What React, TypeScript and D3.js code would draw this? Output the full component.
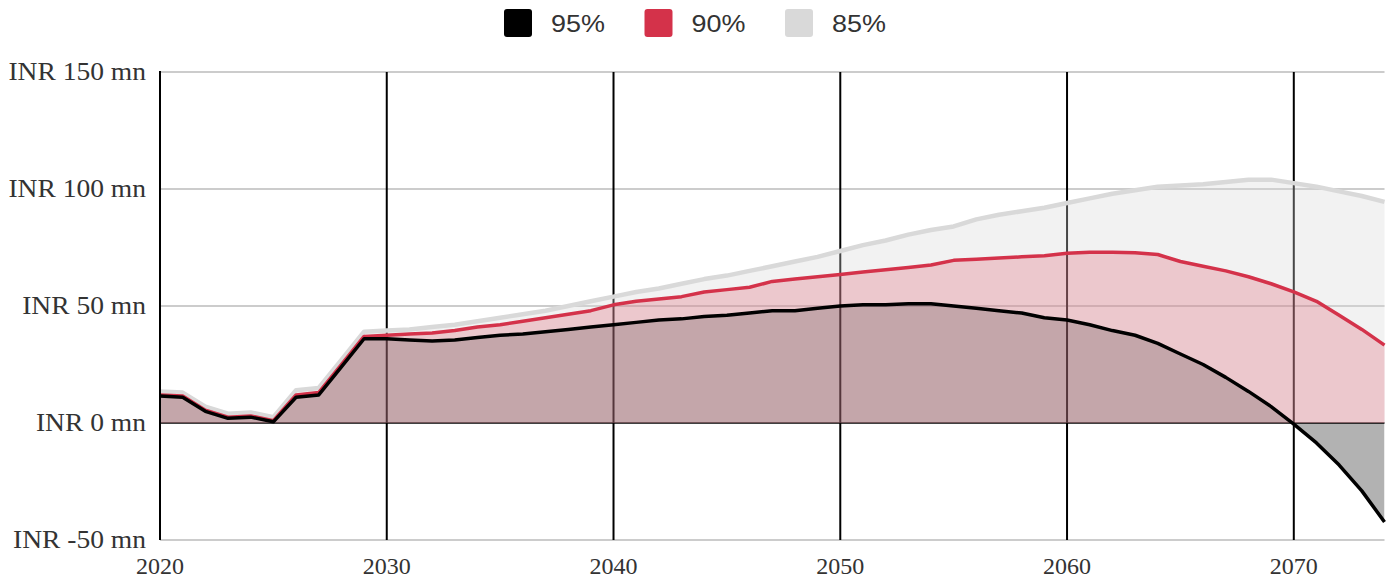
import React from "react";
import * as d3 from "d3";

const years: number[] = d3.range(2020, 2075);
const p95: number[] = [11.5, 11, 5, 2, 2.5, 0.5, 11, 12, 24, 36, 36, 35.5, 35, 35.5, 36.5, 37.5, 38, 39, 40, 41, 42, 43, 44, 44.5, 45.5, 46, 47, 48, 48, 49, 50, 50.5, 50.5, 51, 51, 50, 49, 48, 47, 45, 44, 42, 39.5, 37.5, 34, 29.5, 25, 19.5, 13.5, 7, -0.5, -8.5, -18, -29, -42.3];
const p90: number[] = [12, 11.5, 5.5, 2.5, 3, 1, 12, 13, 25, 37, 37.5, 38, 38.5, 39.5, 41, 42, 43.5, 45, 46.5, 48, 50.5, 52, 53, 54, 56, 57, 58, 60.5, 61.5, 62.5, 63.5, 64.5, 65.5, 66.5, 67.5, 69.5, 70, 70.5, 71, 71.5, 72.5, 73, 73, 72.8, 72, 69, 67, 65, 62.5, 59.5, 56, 52, 46, 40, 33.3];
const p85: number[] = [13.5, 13, 7, 4, 4.5, 2.5, 14, 15, 27, 39, 39.5, 40, 41, 42, 43.5, 45, 46.5, 48, 50, 52, 54, 56, 57.5, 59.5, 61.5, 63, 65, 67, 69, 71, 73.5, 76, 78, 80.5, 82.5, 84, 87, 89, 90.5, 92, 94, 96, 98, 99.5, 101, 101.5, 102, 103, 104, 104, 102.5, 101, 99, 97, 94.5];
const yTicks: number[] = [-50, 0, 50, 100, 150];
const xTicks: number[] = [2020, 2030, 2040, 2050, 2060, 2070];
const legendLabels: string[] = ["95%", "90%", "85%"];
const legendColors: string[] = ["#000000", "#d4324a", "#d9d9d9"];

const W = 1393;
const H = 581;
const left = 160;
const right = 1384.5;
const top = 72;
const bottom = 540;

export default function App() {
  const x = d3.scaleLinear().domain([2020, 2074]).range([left, right]);
  const y = d3.scaleLinear().domain([-50, 150]).range([bottom, top]);

  const mk = (vals: number[]) =>
    years.map((yr, i) => ({ yr, v: vals[i] }));

  const line = d3
    .line<{ yr: number; v: number }>()
    .x((d) => x(d.yr))
    .y((d) => y(d.v));
  const area = d3
    .area<{ yr: number; v: number }>()
    .x((d) => x(d.yr))
    .y0(y(0))
    .y1((d) => y(d.v));

  const serif = "'Liberation Serif', 'DejaVu Serif', serif";
  const sans = "'Liberation Sans', Arial, sans-serif";

  return (
    <svg
      width={W}
      height={H}
      style={{ position: "absolute", left: 0, top: 0, display: "block" }}
    >
      <defs>
        <clipPath id="above">
          <rect x={left} y={0} width={right - left} height={y(0)} />
        </clipPath>
        <clipPath id="below">
          <rect x={left} y={y(0)} width={right - left} height={H - y(0)} />
        </clipPath>
      </defs>
      <rect width={W} height={H} fill="#fff" />
      {/* horizontal grid */}
      {yTicks.map((t) => (
        <line
          key={"h" + t}
          x1={left}
          x2={right}
          y1={y(t)}
          y2={y(t)}
          stroke={t === 0 ? "#000" : "#cccccc"}
          strokeWidth={t === 0 ? 1.5 : 2}
        />
      ))}
      {/* vertical grid */}
      {xTicks.map((t) => (
        <line
          key={"v" + t}
          x1={x(t)}
          x2={x(t)}
          y1={top}
          y2={bottom}
          stroke="#000"
          strokeWidth={2}
        />
      ))}
      {/* areas */}
      <path d={area(mk(p85)) || ""} fill="rgba(217,217,217,0.33)" />
      <path d={area(mk(p90)) || ""} fill="rgba(212,50,74,0.22)" />
      <path d={area(mk(p95)) || ""} fill="rgba(0,0,0,0.17)" clipPath="url(#above)" />
      <path d={area(mk(p95)) || ""} fill="rgba(0,0,0,0.3)" clipPath="url(#below)" />
      {/* lines */}
      <path d={line(mk(p85)) || ""} fill="none" stroke="#d9d9d9" strokeWidth={4.5} strokeLinejoin="round" />
      <path d={line(mk(p90)) || ""} fill="none" stroke="#d4324a" strokeWidth={3.5} strokeLinejoin="round" />
      <path d={line(mk(p95)) || ""} fill="none" stroke="#000" strokeWidth={3.5} strokeLinejoin="round" />
      {/* axes */}
      <line x1={left} x2={left} y1={top - 1} y2={bottom} stroke="#000" strokeWidth={2} />
      {yTicks.map((t) => (
        <text
          key={"yl" + t}
          transform={`translate(146,${y(t)}) scale(1.08,1)`}
          dy="0.32em"
          textAnchor="end"
          fontFamily={serif}
          fontSize={25.5}
          fill="#333"
        >
          {`INR ${t} mn`}
        </text>
      ))}
      {xTicks.map((t) => (
        <text
          key={"xl" + t}
          x={x(t)}
          y={574}
          textAnchor="middle"
          fontFamily={serif}
          fontSize={24}
          fill="#333"
        >
          {t}
        </text>
      ))}
      {/* legend */}
      {legendLabels.map((l, i) => (
        <g key={l} transform={`translate(${504 + i * 140.5},9)`}>
          <rect width={28} height={28} rx={3} fill={legendColors[i]} />
          <text
            transform="translate(47,23) scale(1.1,1)"
            fontFamily={sans}
            fontSize={24.5}
            fill="#333"
          >
            {l}
          </text>
        </g>
      ))}
    </svg>
  );
}
